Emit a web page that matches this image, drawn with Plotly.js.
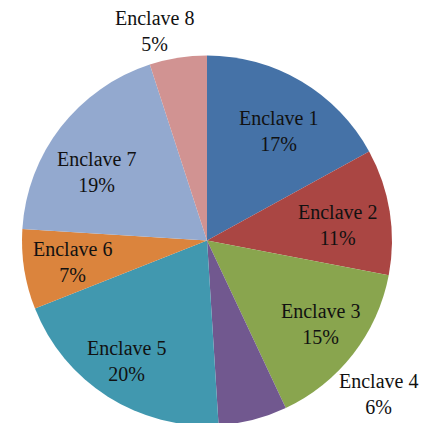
<!DOCTYPE html>
<html>
<head>
<meta charset="utf-8">
<script src="https://cdn.plot.ly/plotly-3.0.1.min.js"></script>
<style>
html,body{margin:0;padding:0;overflow:hidden;background:#fff;}
#chart{width:423px;height:426px;}
</style>
</head>
<body>
<div id="chart"></div>
<script>
var labels = ["Enclave 1","Enclave 2","Enclave 3","Enclave 4","Enclave 5","Enclave 6","Enclave 7","Enclave 8"];
var values = [17, 11, 15, 6, 20, 7, 19, 5];
var colors = ["#4572A7","#AA4643","#89A54E","#71588F","#4198AF","#DB843D","#93A9CF","#D19392"];

var fontFam = "Liberation Serif, serif";

var trace = {
  type: "pie",
  labels: labels,
  values: values,
  sort: false,
  direction: "clockwise",
  rotation: 0,
  marker: {colors: colors, line: {width: 0}},
  textinfo: "none",
  hoverinfo: "none",
  showlegend: false
};

var L = 22, R = 31, T = 55, B = 0, W = 423, H = 426;
// label centre positions in pixels (layout only)
var labelPos = [[278,131],[337,225],[320,324],[378,394],[126,361],[72,262],[96,172],[154,31]];

var ann = labels.map(function(l, i){
  var px = labelPos[i][0], py = labelPos[i][1];
  return {
    text: l + "<br>" + values[i] + "%",
    xref: "paper", yref: "paper",
    x: (px - L) / (W - L - R),
    y: 1 - (py - T) / (H - T - B),
    xanchor: "center", yanchor: "middle",
    showarrow: false,
    font: {family: fontFam, size: 20, color: "#111"}
  };
});

var layout = {
  width: W, height: H,
  margin: {l: L, r: R, t: T, b: B},
  paper_bgcolor: "#fff",
  annotations: ann,
  showlegend: false
};

Plotly.newPlot("chart", [trace], layout, {displayModeBar: false, staticPlot: true});
</script>
</body>
</html>
